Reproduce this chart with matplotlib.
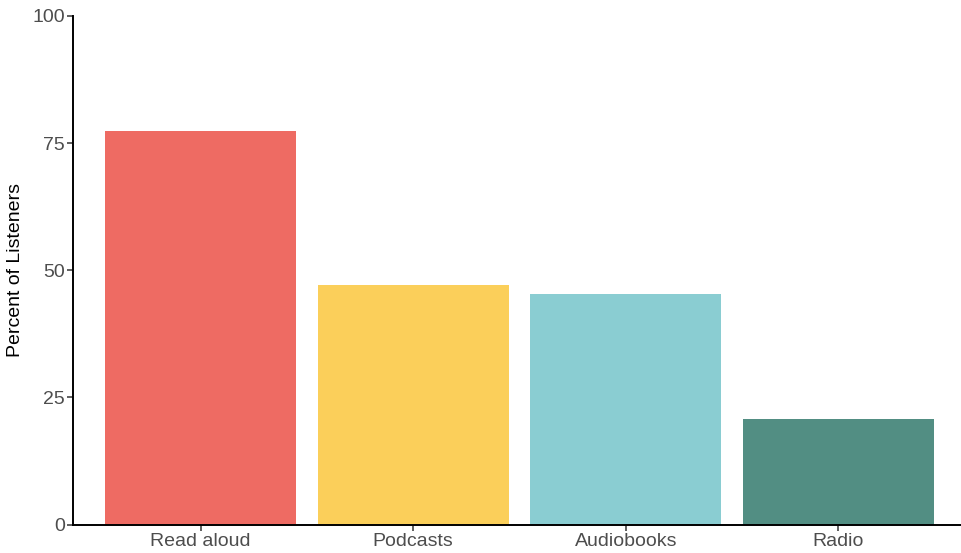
import matplotlib
matplotlib.use("Agg")
import matplotlib.pyplot as plt

categories = ["Read aloud", "Podcasts", "Audiobooks", "Radio"]
percents = [77.4, 47.1, 45.4, 20.8]
colors = ["#EE6B63", "#FBCF5A", "#8ACDD2", "#528E83"]
y_ticks = [0, 25, 50, 75, 100]

plt.rcParams['font.family'] = ['Liberation Sans', 'DejaVu Sans']

W, H = 961, 553
fig = plt.figure(figsize=(W / 100, H / 100), dpi=100)
left, right = 73, 966
bottom, top = 524.5, 16
ax = fig.add_axes([left / W, (H - bottom) / H, (right - left) / W, (bottom - top) / H])

x = list(range(len(categories)))
ax.bar(x, percents, width=0.9, color=colors)

ax.set_xlim(-0.6, 3.6)
ax.set_ylim(0, 100)
ax.set_xticks(x)
ax.set_xticklabels(categories)
ax.set_yticks(y_ticks)
ax.set_yticklabels([str(v) for v in y_ticks])
ax.set_ylabel("Percent of Listeners", fontsize=14, color="black", labelpad=6)

for s in ["top", "right"]:
    ax.spines[s].set_visible(False)
for s in ["left", "bottom"]:
    ax.spines[s].set_linewidth(1.4)
    ax.spines[s].set_color("black")
    ax.spines[s].set_zorder(3)

ax.tick_params(axis="both", length=4, width=1.1, color="#333333",
               labelsize=14, labelcolor="#4d4d4d", pad=2)

fig.savefig("out.png", dpi=100)
